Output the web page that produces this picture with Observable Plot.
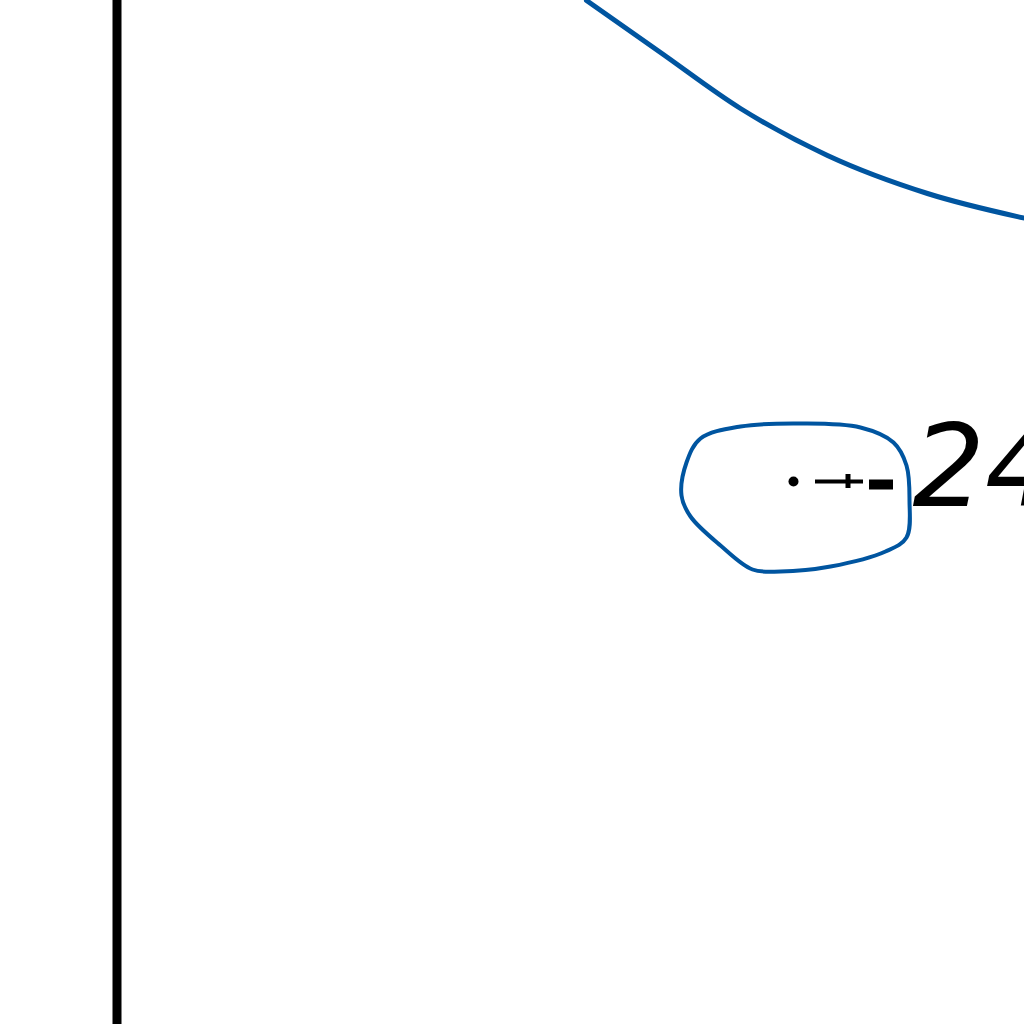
<!DOCTYPE html>
<html>
<head>
<meta charset="utf-8">
<script src="https://cdn.jsdelivr.net/npm/d3@7"></script>
<script src="https://cdn.jsdelivr.net/npm/@observablehq/plot@0.6"></script>
<style>
  html, body { margin: 0; padding: 0; background: #fff; overflow: hidden; }
  svg { display: block; }
</style>
</head>
<body>
<div id="chart"></div>
<script>
// axis line position (x)
const axisX = [116.5];

// large contour (x, y, y grows downward)
const arcX = [586, 660, 740, 827, 927, 1030];
const arcY = [0, 52, 108, 155, 193, 219];

// small closed contour
const loopX = [800, 860, 893, 906, 909, 906, 885, 830, 780, 752, 720, 690, 681, 686, 700, 740];
const loopY = [423, 427, 442, 465, 500, 537, 551, 566, 571, 569, 545, 516, 495, 462, 438, 426];

// marker beside the label: dot, thin dash with cross tick, thick dash
const markerDot = {x: 793, y: 481};
const markerLine = {x1: 815, x2: 863, y: 481};
const markerTick = {x: 847.5, y1: 474, y2: 488};
const markerDash = {x1: 869, x2: 893, y: 484};

// label (cut off at the right edge, as in the picture)
const labelText = ["24"];
const labelPos = {x: 912, y: 505};

const blue = "#0055a0";

const arc = arcX.map((x, i) => ({x, y: arcY[i]}));
const loop = loopX.map((x, i) => ({x, y: loopY[i]}));

const chart = Plot.plot({
  width: 1024,
  height: 1024,
  margin: 0,
  x: {domain: [0, 1024], axis: null},
  y: {domain: [0, 1024], reverse: true, axis: null},
  style: {background: "#fff"},
  marks: [
    Plot.ruleX(axisX, {stroke: "#000", strokeWidth: 9}),
    Plot.line(arc, {x: "x", y: "y", stroke: blue, strokeWidth: 5, curve: "monotone-x"}),
    Plot.line(loop, {x: "x", y: "y", stroke: blue, strokeWidth: 4, curve: "catmull-rom-closed"}),
    Plot.dot([markerDot], {x: "x", y: "y", r: 5, fill: "#000"}),
    Plot.ruleY([markerLine], {x1: "x1", x2: "x2", y: "y", stroke: "#000", strokeWidth: 4}),
    Plot.ruleX([markerTick], {x: "x", y1: "y1", y2: "y2", stroke: "#000", strokeWidth: 5}),
    Plot.ruleY([markerDash], {x1: "x1", x2: "x2", y: "y", stroke: "#000", strokeWidth: 10}),
    Plot.text(labelText, {
      x: () => labelPos.x, y: () => labelPos.y, text: d => d,
      textAnchor: "start", lineAnchor: "bottom",
      fontSize: 114, fontStyle: "italic", fontFamily: "DejaVu Sans", fill: "#000"
    })
  ]
});

document.getElementById("chart").append(chart);
</script>
</body>
</html>
